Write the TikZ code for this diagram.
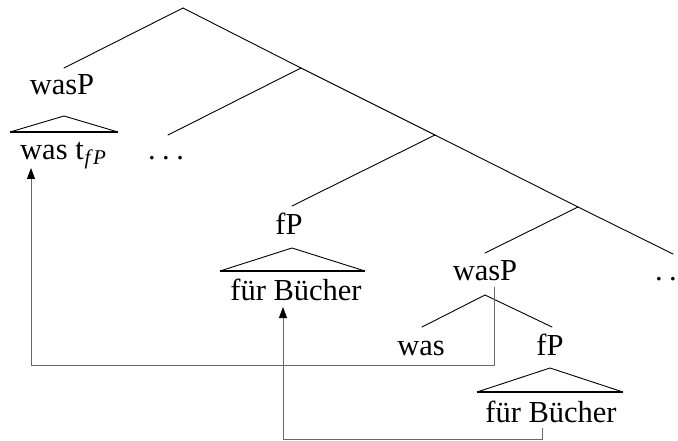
\documentclass[tikz,border=0pt]{standalone}
\usepackage{fontspec}
\setmainfont{Liberation Serif}
\usetikzlibrary{arrows.meta}
\definecolor{movegray}{RGB}{105,105,105}
\newcommand{\spdots}{.\kern6.5pt.\kern6.5pt.}
\begin{document}
\begin{tikzpicture}[x=1pt,y=-1pt,
  lbl/.style={anchor=base,inner sep=0pt,font=\fontsize{30.5}{34}\selectfont},
  branch/.style={line width=0.9pt,line cap=round},
  triside/.style={line width=0.9pt},
  tribase/.style={line width=2.6pt},
  movearrow/.style={draw=movegray,line width=0.9pt,-{Triangle[width=8pt,length=11pt,color=black]}}]
\useasboundingbox (0,0) rectangle (678,441);
% branching points
\coordinate (root) at (183,8);
\coordinate (b1) at (301,68);
\coordinate (b2) at (435,135);
\coordinate (b3) at (578,207);
\coordinate (b4) at (485,295);
% branch ends
\coordinate (e0) at (64,68);
\coordinate (e1) at (168,135);
\coordinate (e2) at (292,206);
\coordinate (e3) at (485,253);
\coordinate (e4) at (673,254);
\coordinate (e5) at (422,327);
\coordinate (e6) at (552,327);
% labels
\node[lbl] (wasPtop) at (62,95) {wasP};
\node[lbl,anchor=base west] (wast) at (20,160) {was t\kern1pt\raisebox{-5pt}{\fontsize{21}{23}\selectfont\textit{f\kern2.5pt P}}};
\node[lbl] (dotsL) at (166,160) {\spdots};
\node[lbl] (fPmid) at (289,235) {fP};
\node[lbl] (fbmid) at (296,300) {für Bücher};
\node[lbl] (wasPlow) at (485,280) {wasP};
\node[lbl] (dotsR) at (673,280) {\spdots};
\node[lbl] (was) at (421,355) {was};
\node[lbl] (fPlow) at (550,355) {fP};
\node[lbl] (fblow) at (551,422) {für Bücher};
% tree
\draw[branch] (e0) -- (root) -- (b1) -- (b2) -- (b3) -- (e4);
\draw[branch] (b1) -- (e1);
\draw[branch] (b2) -- (e2);
\draw[branch] (b3) -- (e3);
\draw[branch] (e5) -- (b4) -- (e6);
% triangles
\coordinate (t1a) at (64,116); \coordinate (t1l) at (10,132); \coordinate (t1r) at (118,132);
\coordinate (t2a) at (292,248); \coordinate (t2l) at (220,271); \coordinate (t2r) at (365,271);
\coordinate (t3a) at (550,368); \coordinate (t3l) at (477,392); \coordinate (t3r) at (623,392);
\draw[triside] (t1l) -- (t1a) -- (t1r);
\draw[tribase] (t1l) -- (t1r);
\draw[triside] (t2l) -- (t2a) -- (t2r);
\draw[tribase] (t2l) -- (t2r);
\draw[triside] (t3l) -- (t3a) -- (t3r);
\draw[tribase] (t3l) -- (t3r);
% movement arrows
\coordinate (m1s) at (494,287);
\coordinate (m1c) at (494,365);
\coordinate (m1t) at (31,168);
\draw[movearrow] (m1s) -- (m1c) -| (m1t);
\coordinate (m2s) at (542,428);
\coordinate (m2c) at (542,439);
\coordinate (m2t) at (283,307);
\draw[movearrow] (m2s) -- (m2c) -| (m2t);
\end{tikzpicture}
\end{document}
